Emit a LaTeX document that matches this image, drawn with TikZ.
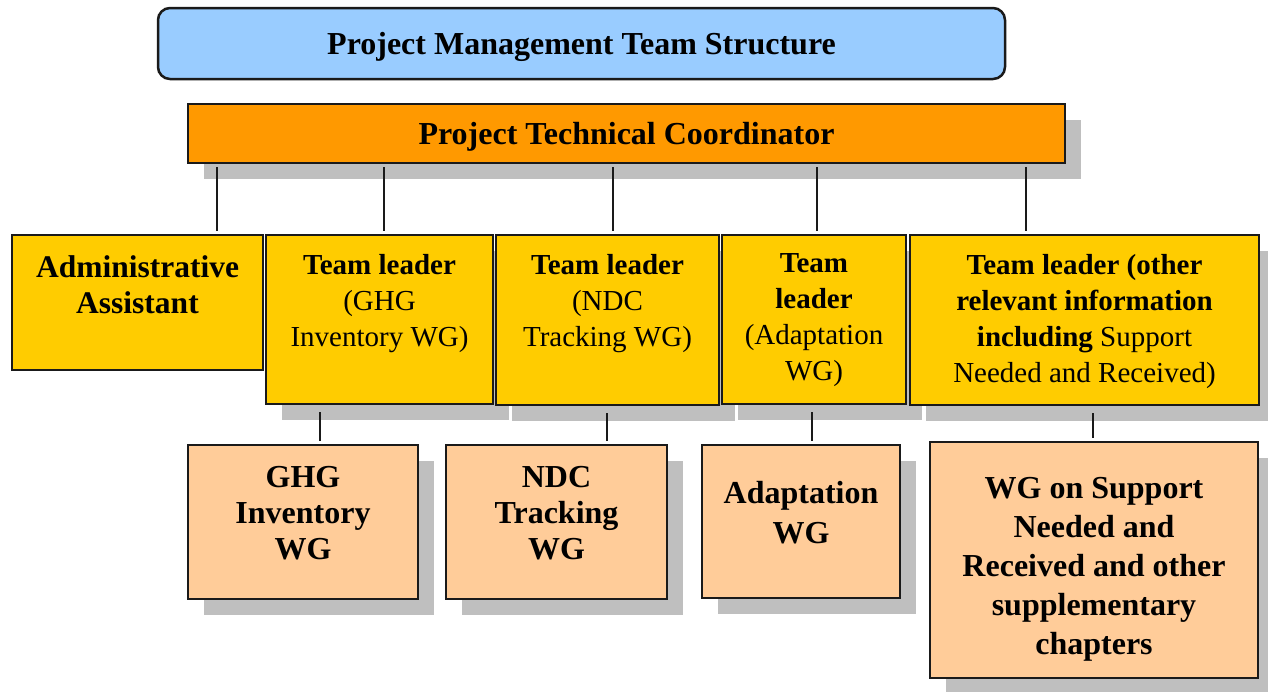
\documentclass[tikz,border=0pt]{standalone}
\usepackage{fontspec}
\setmainfont{Liberation Serif}
\usetikzlibrary{positioning,shadows}

\definecolor{titleblue}{HTML}{99CCFF}
\definecolor{coordorange}{HTML}{FF9900}
\definecolor{leadyellow}{HTML}{FFCC00}
\definecolor{wgpeach}{HTML}{FFCC99}
\definecolor{shadegray}{HTML}{BFBFBF}
\definecolor{edgeblack}{HTML}{1A1A1A}

\tikzset{
  box/.style={rectangle, draw=edgeblack, line width=2.5pt, inner sep=0pt},
  shadowed/.style={drop shadow={shadow xshift=16pt, shadow yshift=-16pt, fill=shadegray, opacity=1}},
  lead/.style={box, shadowed, fill=leadyellow},
  wg/.style={box, shadowed, fill=wgpeach},
  txt/.style={inner sep=0pt, align=center, text=black},
  leadtext/.style={txt, font=\fontsize{29}{36}\selectfont},
  wgtext/.style={txt, font=\fontsize{32}{36}\selectfont\bfseries},
  headtext/.style={font=\fontsize{32}{36}\selectfont\bfseries, text height=21pt, text depth=0pt},
  conn/.style={draw=edgeblack, line width=2.5pt, shorten <=3pt, shorten >=3pt}
}

\begin{document}
\begin{tikzpicture}[x=1pt, y=-1pt]
  \useasboundingbox (0,0) rectangle (1268,691);

  % top of the chart
  \node [box, headtext, fill=titleblue, rounded corners=12pt, minimum width=847pt, minimum height=71pt]
    (title) at (581.5,43.5) {Project Management Team Structure};
  \node [box, headtext, shadowed, fill=coordorange, minimum width=877pt, minimum height=59pt]
    (coord) at (626.5,133.5) {Project Technical Coordinator};

  % second row
  \node [box, fill=leadyellow, minimum width=251pt, minimum height=135pt] (admin) at (137.5,302.5) {};
  \node [txt, font=\fontsize{31.5}{36}\selectfont\bfseries, below=22pt of admin.north] (admin-t) {Administrative\\Assistant};

  \node [lead, minimum width=227pt, minimum height=169pt] (tlghg) at (379.5,319.5) {};
  \node [leadtext, below=20pt of tlghg.north] (tlghg-t) {\textbf{Team leader}\\(GHG\\Inventory WG)};

  \node [lead, minimum width=223pt, minimum height=170pt] (tlndc) at (607.5,320) {};
  \node [leadtext, below=20pt of tlndc.north] (tlndc-t) {\textbf{Team leader}\\(NDC\\Tracking WG)};

  \node [lead, minimum width=184pt, minimum height=169pt] (tladp) at (814,319.5) {};
  \node [leadtext, below=20pt of tladp.north] (tladp-t) {\textbf{Team}\\\textbf{leader}\\(Adaptation\\WG)};

  \node [lead, minimum width=349pt, minimum height=170pt] (tloth) at (1084.5,320) {};
  \node [leadtext, below=20pt of tloth.north] (tloth-t) {\textbf{Team leader (other}\\\textbf{relevant information}\\\textbf{including} Support\\Needed and Received)};

  % working groups
  \node [wg, minimum width=230pt, minimum height=154pt] (wgghg) at (303,522) {};
  \node [wgtext, below=22pt of wgghg.north] (wgghg-t) {GHG\\Inventory\\WG};

  \node [wg, minimum width=221pt, minimum height=154pt] (wgndc) at (556.5,522) {};
  \node [wgtext, below=22pt of wgndc.north] (wgndc-t) {NDC\\Tracking\\WG};

  \node [wg, minimum width=198pt, minimum height=153pt] (wgadp) at (801,521.5) {};
  \node [wgtext, font=\fontsize{32}{40}\selectfont\bfseries, below=37pt of wgadp.north] (wgadp-t) {Adaptation\\WG};

  \node [wg, minimum width=328pt, minimum height=236pt] (wgsup) at (1094,560) {};
  \node [wgtext, font=\fontsize{32}{39}\selectfont\bfseries, below=36pt of wgsup.north] (wgsup-t) {WG on Support\\Needed and\\Received and other\\supplementary\\chapters};

  % lines
  \draw [conn] (coord.south -| 217,0) -- (admin.north -| 217,0);
  \draw [conn] (coord.south -| 384,0) -- (tlghg.north -| 384,0);
  \draw [conn] (coord.south -| 613,0) -- (tlndc.north -| 613,0);
  \draw [conn] (coord.south -| 817,0) -- (tladp.north -| 817,0);
  \draw [conn] (coord.south -| 1026,0) -- (tloth.north -| 1026,0);

  \draw [conn, shorten <=7pt] (tlghg.south -| 320,0) -- (wgghg.north -| 320,0);
  \draw [conn, shorten <=7pt] (tlndc.south -| 607,0) -- (wgndc.north -| 607,0);
  \draw [conn, shorten <=7pt] (tladp.south -| 812,0) -- (wgadp.north -| 812,0);
  \draw [conn, shorten <=7pt] (tloth.south -| 1093,0) -- (wgsup.north -| 1093,0);
\end{tikzpicture}
\end{document}
